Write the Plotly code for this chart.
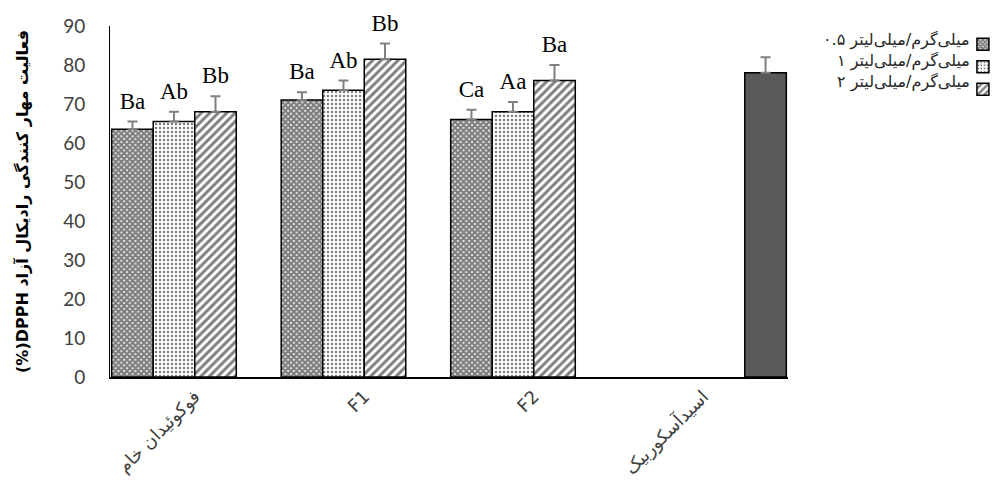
import plotly.graph_objects as go

categories = ["فوکوئیدان خام", "F1", "F2", "اسیدآسکوربیک"]
series_names = ["میلی‌گرم/میلی‌لیتر ۰.۵", "میلی‌گرم/میلی‌لیتر ۱", "میلی‌گرم/میلی‌لیتر ۲", "اسید آسکوربیک"]

s1_values = [63.5, 71.0, 66.0, None]
s2_values = [65.5, 73.5, 68.0, None]
s3_values = [68.0, 81.5, 76.0, None]
s4_values = [None, None, None, 78.0]

s1_err = [2.0, 2.0, 2.5, None]
s2_err = [2.5, 2.5, 2.5, None]
s3_err = [4.0, 4.0, 4.0, None]
s4_err = [None, None, None, 4.0]

s1_letters = ["Ba", "Ba", "Ca", ""]
s2_letters = ["Ab", "Ab", "Aa", ""]
s3_letters = ["Bb", "Bb", "Ba", ""]
s4_letters = ["", "", "", ""]

y_ticks = [0, 10, 20, 30, 40, 50, 60, 70, 80, 90]
y_title = "(%)DPPH فعالیت مهار کنندگی رادیکال آزاد"

values = [s1_values, s2_values, s3_values, s4_values]
errors = [s1_err, s2_err, s3_err, s4_err]
letters = [s1_letters, s2_letters, s3_letters, s4_letters]

patterns = [
    dict(shape="x", size=4, solidity=0.8, fgcolor="black", bgcolor="white"),
    dict(shape=".", size=4, solidity=0.3, fgcolor="black", bgcolor="white"),
    dict(shape="/", size=6, solidity=0.5, fgcolor="black", bgcolor="white"),
    None,
]

GAP = 0.02
fig = go.Figure()
for i in range(4):
    marker = dict(line=dict(color="black", width=1.5))
    if patterns[i] is not None:
        marker["color"] = "white"
        marker["pattern"] = patterns[i]
    else:
        marker["color"] = "#595959"
    zeros = [0 if e is not None else None for e in errors[i]]
    fig.add_trace(go.Bar(
        x=categories, y=values[i], name=" ",
        offsetgroup=str(i), marker=marker,
        error_y=dict(type="data", array=errors[i], arrayminus=zeros,
                     symmetric=False, visible=True,
                     color="#808080", thickness=2, width=5),
        showlegend=(i < 3), hoverinfo="y",
    ))

for i in range(4):
    tops = [(v + e) if v is not None else None for v, e in zip(values[i], errors[i])]
    fig.add_trace(go.Scatter(
        x=categories, y=tops, mode="markers+text", text=letters[i],
        textposition="top center", offsetgroup=str(i),
        marker=dict(size=10, color="rgba(0,0,0,0)"),
        textfont=dict(family="Liberation Serif", size=23, color="black"),
        cliponaxis=False,
        showlegend=False, hoverinfo="skip",
    ))

# legend text (right-to-left style: text to the left of the swatch)
legend_rows_y = [0.961, 0.901, 0.841]
for name, yy in zip(series_names[:3], legend_rows_y):
    fig.add_annotation(
        x=1.272, y=yy, xref="paper", yref="paper", text=name,
        showarrow=False, xanchor="right", yanchor="middle",
        font=dict(family="DejaVu Sans", size=16, color="#262626"),
    )

fig.update_layout(
    width=999, height=481,
    margin=dict(l=102, r=219, t=18, b=112, autoexpand=False),
    paper_bgcolor="white", plot_bgcolor="white",
    barmode="group", bargap=GAP, bargroupgap=0,
    scattermode="group", scattergap=GAP,
    showlegend=True,
    legend=dict(x=1.258, y=0.994, xanchor="left", yanchor="top",
                font=dict(size=15), itemwidth=30, bgcolor="rgba(0,0,0,0)",
                tracegroupgap=0),
    font=dict(family="DejaVu Sans"),
)

fig.update_yaxes(
    range=[0, 90], tickvals=y_ticks, showgrid=False, zeroline=False,
    showline=True, linecolor="black", linewidth=1,
    ticks="", ticklabelstandoff=20,
    tickfont=dict(family="Lato", size=19, color="#404040"),
    title=dict(text=y_title, font=dict(family="DejaVu Sans", size=16, color="black",
                                       weight="bold"), standoff=30),
)
fig.update_xaxes(
    showgrid=False, showline=True, linecolor="black", linewidth=2,
    ticks="", tickangle=-45,
    tickfont=dict(family="DejaVu Sans", size=18, color="#404040"),
)

fig.write_html("out.html")
